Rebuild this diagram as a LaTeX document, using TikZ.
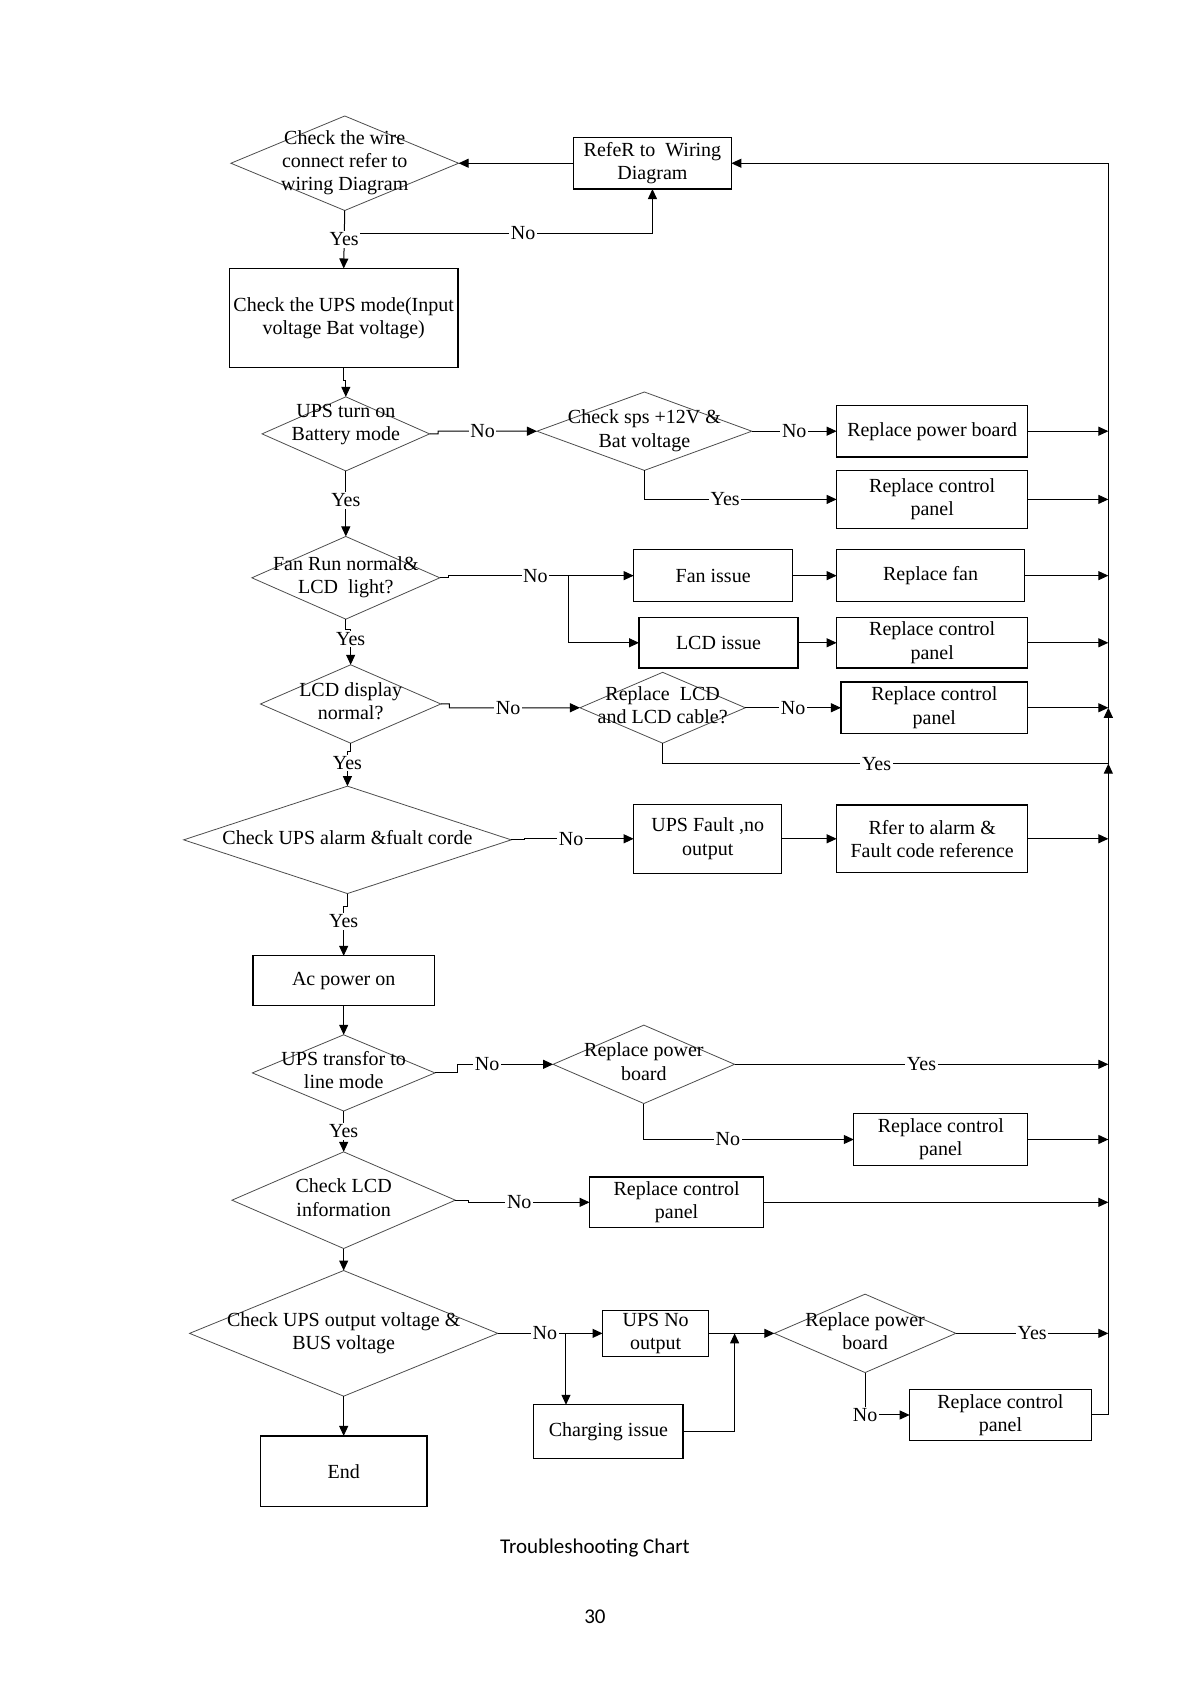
\documentclass[tikz,border=0pt]{standalone}
\usepackage{fontspec}
\setmainfont{Liberation Serif}
\newfontfamily\capfont{Carlito}
\usetikzlibrary{shapes.geometric,arrows.meta}
\newdimen\U \U=0.537pt
\newcommand{\dt}[2][0pt]{\raisebox{\dimexpr-4.6pt+#1\relax}{\makebox[0pt]{\smash{\begin{tabular}{@{}c@{}}#2\end{tabular}}}}}
\begin{document}
\begin{tikzpicture}[x=0.537pt,y=-0.537pt,
  every node/.style={font=\fontsize{10}{11.6}\selectfont},
  box/.style={draw,line width=0.6pt,rectangle,align=center,inner sep=1pt,outer sep=0pt},
  dia/.style={draw=black!70,line width=0.4pt,diamond,inner sep=0pt,outer sep=0pt},
  arr/.style={line width=0.5pt,-{Triangle[length=5pt,width=4.5pt]}},
  ln/.style={line width=0.5pt},
  lab/.style={fill=white,inner sep=0.8pt}]
\useasboundingbox (0,0) rectangle (1109,1568);
% nodes
\node[dia,minimum width=212\U,minimum height=88\U] (d1) at (321,152) {\dt{Check the wire\\connect refer to\\wiring Diagram}};
\node[box,minimum width=147\U,minimum height=48\U] (b1) at (607.5,152) {RefeR to~~Wiring\\Diagram};
\node[box,minimum width=213\U,minimum height=92\U] (b2) at (320,296) {Check the UPS mode(Input\\voltage Bat voltage)};
\node[dia,minimum width=156\U,minimum height=69\U] (d2) at (322,404) {\dt[17\U]{UPS turn on\\Battery mode}};
\node[dia,minimum width=200\U,minimum height=73\U] (d3) at (600,401.5) {\dt{Check sps +12V \&\\Bat voltage}};
\node[box,minimum width=178\U,minimum height=48\U] (b3) at (868,401.5) {Replace power board};
\node[box,minimum width=178\U,minimum height=54\U] (b4) at (868,465) {Replace control\\panel};
\node[dia,minimum width=175\U,minimum height=77\U] (d4) at (322,538) {\dt{Fan Run normal\&\\LCD~~light?}};
\node[box,minimum width=148\U,minimum height=48\U] (b5) at (664,536) {Fan issue};
\node[box,minimum width=175\U,minimum height=48\U] (b7) at (866.5,536) {Replace fan};
\node[box,minimum width=148\U,minimum height=47\U] (b6) at (669,598.5) {LCD issue};
\node[box,minimum width=178\U,minimum height=47\U] (b8) at (868,598.5) {Replace control\\panel};
\node[dia,minimum width=168\U,minimum height=73\U] (d5) at (326.5,655.5) {\dt{LCD display\\normal?}};
\node[dia,minimum width=154\U,minimum height=66\U] (d6) at (617,659) {\dt{Replace~~LCD\\and LCD cable?}};
\node[box,minimum width=174\U,minimum height=48\U] (b9) at (870,659) {Replace control\\panel};
\node[dia,minimum width=305\U,minimum height=100\U] (d7) at (323.5,782) {\dt{Check UPS alarm \&fualt corde}};
\node[box,minimum width=138\U,minimum height=64\U] (b10) at (659,781) {UPS Fault ,no\\output};
\node[box,minimum width=178\U,minimum height=63\U] (b11) at (868,781) {Rfer to alarm \&\\Fault code reference};
\node[box,minimum width=169\U,minimum height=46\U] (b12) at (320,913) {Ac power on};
\node[dia,minimum width=170\U,minimum height=71\U] (d8) at (320,999) {\dt{UPS transfor to\\line mode}};
\node[dia,minimum width=169\U,minimum height=73\U] (d9) at (599.5,991) {\dt{Replace power\\board}};
\node[box,minimum width=162\U,minimum height=48\U] (b13) at (876,1061) {Replace control\\panel};
\node[dia,minimum width=208\U,minimum height=90\U] (d10) at (320,1117.5) {\dt{Check LCD\\information}};
\node[box,minimum width=162\U,minimum height=47\U] (b14) at (630,1119.5) {Replace control\\panel};
\node[dia,minimum width=287\U,minimum height=117\U] (d11) at (320,1241.5) {\dt{Check UPS output voltage \&\\BUS voltage}};
\node[box,minimum width=99\U,minimum height=43\U] (b15) at (610.5,1241.5) {UPS No\\output};
\node[box,minimum width=139\U,minimum height=50\U] (b16) at (566.5,1333) {Charging issue};
\node[dia,minimum width=169\U,minimum height=73\U] (d12) at (805.5,1241.5) {\dt{Replace power\\board}};
\node[box,minimum width=169\U,minimum height=47\U] (b17) at (931.5,1317.5) {Replace control\\panel};
\node[box,minimum width=155\U,minimum height=66\U] (b18) at (320,1370) {End};
\node[font=\capfont\fontsize{10.5}{12}\selectfont] (cap) at (554,1441) {Troubleshooting Chart};
\node[font=\capfont\fontsize{10.5}{12}\selectfont] (pg) at (554,1505) {30};
% coordinates
\coordinate (rtop) at (1032,152);
\coordinate (ry1) at (1032,659);
\coordinate (ry2) at (1032,711);
\coordinate (j1) at (321,217);
\coordinate (j2) at (529,536);
\coordinate (j3) at (527,1241.5);
\coordinate (j4) at (684,1241.5);
% connectors
\draw[arr] (b1.west) -- (d1.east);
\draw[arr] (j1) -- node[lab,pos=0.58]{No} (j1 -| b1.south) -- (b1.south);
\draw[arr] (d1.south) -- node[lab,pos=0.5]{Yes} (b2.north);
\draw[arr] (b2.south) -- ++(0,12) -| (d2.north);
\draw[arr] (d2.east) -- ++(8,0) -- ++(0,-2.5) -- node[lab,pos=0.45]{No} (d3.west);
\draw[arr] (d3.east) -- node[lab]{No} (b3.west);
\draw[arr] (b3.east) -- (b3.east -| rtop);
\draw[arr] (d3.south) |- node[lab,pos=0.71]{Yes} (b4.west);
\draw[arr] (b4.east) -- (b4.east -| rtop);
\draw[arr] (d2.south) -- node[lab,pos=0.45]{Yes} (d4.north);
\draw[arr] (d4.east) -- ++(8,0) -- ++(0,-2) -- node[lab,pos=0.47]{No} (b5.west);
\draw[arr] (j2) |- (b6.west);
\draw[arr] (b5.east) -- (b7.west);
\draw[arr] (b7.east) -- (b7.east -| rtop);
\draw[arr] (b6.east) -- (b8.west);
\draw[arr] (b8.east) -- (b8.east -| rtop);
\draw[arr] (d4.south) -- ++(0,10) -| node[lab,pos=0.63]{Yes} (d5.north);
\draw[arr] (d5.east) -- ++(8,0) -- ++(0,3.5) -- node[lab,pos=0.45]{No} (d6.west);
\draw[arr] (d6.east) -- node[lab]{No} (b9.west);
\draw[arr] (b9.east) -- (b9.east -| rtop);
\draw[ln] (d6.south) |- node[lab,pos=0.74]{Yes} (ry2);
\draw[arr] (d5.south) -- ++(0,8) -| node[lab,pos=0.66]{Yes} (d7.north);
\draw[arr] (d7.east) -- ++(12,0) -- ++(0,-1) -- node[lab,pos=0.43]{No} (b10.west);
\draw[arr] (b10.east) -- (b11.west);
\draw[arr] (b11.east) -- (b11.east -| rtop);
\draw[arr] (d7.south) -- ++(0,12) -| node[lab,pos=0.65]{Yes} (b12.north);
\draw[arr] (b12.south) -- (d8.north);
\draw[arr] (d8.east) -- ++(21,0) -- ++(0,-8) -- node[lab,pos=0.31]{No} (d9.west);
\draw[arr] (d9.east) -- node[lab,pos=0.5]{Yes} (d9.east -| rtop);
\draw[arr] (d9.south) |- node[lab,pos=0.7]{No} (b13.west);
\draw[arr] (b13.east) -- (b13.east -| rtop);
\draw[arr] (d8.south) -- node[lab,pos=0.5]{Yes} (d10.north);
\draw[arr] (d10.east) -- ++(12,0) -- ++(0,2) -- node[lab,pos=0.42]{No} (b14.west);
\draw[arr] (b14.east) -- (b14.east -| rtop);
\draw[arr] (d10.south) -- (d11.north);
\draw[arr] (d11.east) -- node[lab,pos=0.45]{No} (b15.west);
\draw[arr] (j3) -- (j3 |- b16.north);
\draw[arr] (b15.east) -- (d12.west);
\draw[arr] (b16.east) -| (j4);
\draw[arr] (d12.east) -- node[lab,pos=0.5]{Yes} (d12.east -| rtop);
\draw[arr] (d12.south) |- node[lab,pos=0.5]{No} (b17.west);
\draw[arr] (d11.south) -- (b18.north);
\draw[arr] (b17.east) -| (ry2);
\draw[arr] (ry2) -- (ry1);
\draw[arr] (ry1) |- (b1.east);
\end{tikzpicture}
\end{document}
